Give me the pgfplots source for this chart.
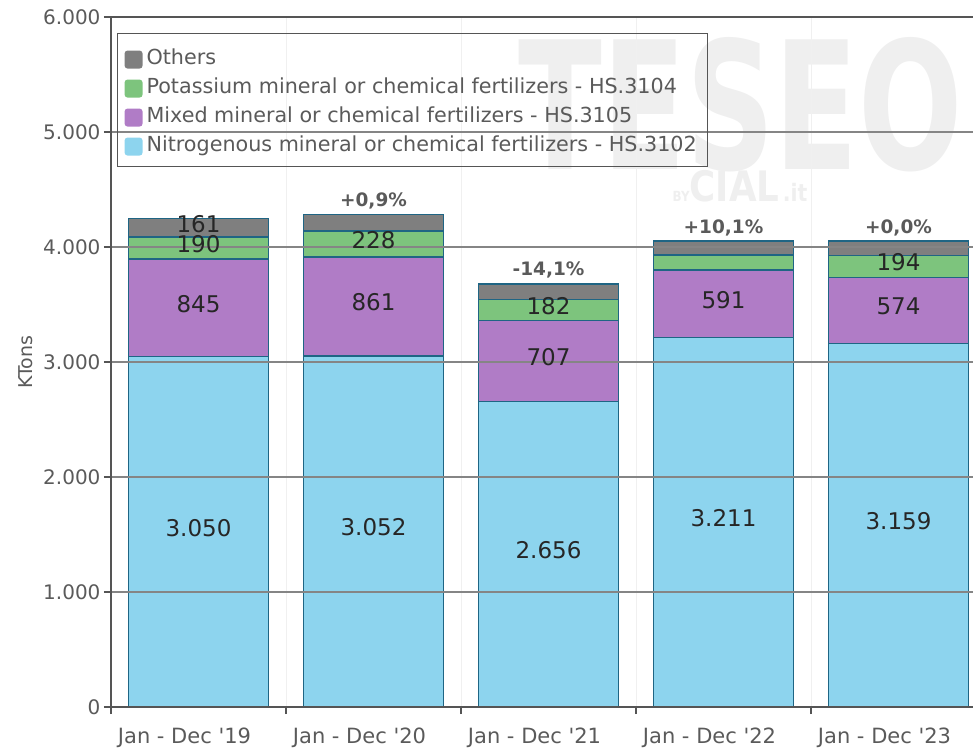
\documentclass[border=0pt]{standalone}
\usepackage{fontspec}
\setmainfont{DejaVu Sans}
\usepackage{pgfplots}
\pgfplotsset{compat=1.18}
\usepackage{pgfplotstable}
\definecolor{nitro}{HTML}{8DD4EE}
\definecolor{mixed}{HTML}{B07CC6}
\definecolor{potas}{HTML}{7DC47D}
\definecolor{others}{HTML}{7F7F7F}
\definecolor{edge}{HTML}{1F6584}
\definecolor{axgray}{HTML}{555555}
\definecolor{gridgray}{HTML}{858585}
\definecolor{vgrid}{HTML}{F0F0F0}
\definecolor{txtgray}{HTML}{5A5A5A}
\definecolor{wm}{HTML}{EFEFEF}

\pgfplotstableread{
x nitro mixed potas others
0 3050 845 190 161
1 3052 861 228 143
2 2656 707 182 135
3 3211 591 130 120
4 3159 574 194 125
}\datatable

\pgfplotstableread{
x y lab
0 1525 3.050
1 1526 3.052
2 1328 2.656
3 1605.5 3.211
4 1579.5 3.159
0 3472.5 845
1 3482.5 861
2 3009.5 707
3 3506.5 591
4 3446 574
0 3990 190
1 4027 228
2 3454 182
4 3830 194
0 4165.5 161
}\labtable

\pgfplotstableread{
x y lab
1 4284 +0,9
2 3680 -14,1
3 4052 +10,1
4 4052 +0,0
}\pcttable

\begin{document}
\begin{tikzpicture}
\useasboundingbox (-111pt,-41pt) rectangle (862pt,707pt);
% watermark
\node[text=wm, inner sep=0pt, font=\bfseries\fontsize{178}{178}\selectfont, xscale=0.69] at (630pt,602pt) {TESEO};
\node[text=wm, inner sep=0pt, xscale=0.85] at (629pt,521pt) {\fontsize{42}{42}\selectfont\bfseries{\fontsize{14}{14}\selectfont BY}CIAL{\fontsize{24}{24}\selectfont\,.it}};
\begin{axis}[
  at={(0pt,0pt)}, anchor=south west,
  width=875pt, height=690pt, scale only axis,
  xmin=-0.5, xmax=4.5, ymin=0, ymax=6000,
  ybar stacked, bar width=140pt,
  axis on top,
  axis line style={draw=axgray, line width=2.6pt},
  xtick={-0.5,0.5,1.5,2.5,3.5}, xticklabels={},
  extra x ticks={0,1,2,3,4},
  extra x tick labels={Jan - Dec \textquotesingle19,Jan - Dec \textquotesingle20,Jan - Dec \textquotesingle21,Jan - Dec \textquotesingle22,Jan - Dec \textquotesingle23},
  extra x tick style={major tick length=0pt, grid=none, tick label style={font=\fontsize{21}{24}\selectfont, text=txtgray, xshift=-14pt, yshift=-17pt}},
  ytick={0,1000,2000,3000,4000,5000,6000},
  yticklabels={0,1.000,2.000,3.000,4.000,5.000,6.000},
  yticklabel style={font=\fontsize{20}{24}\selectfont, text=txtgray},
  major tick length=7pt, tick align=outside,
  tick style={draw=axgray, line width=1.3pt},
  xtick pos=bottom, ytick pos=left,
  xmajorgrids, ymajorgrids,
  x grid style={draw=vgrid, line width=1pt},
  y grid style={draw=gridgray, line width=1.3pt},
  ylabel={KTons},
  every axis y label/.style={at={(axis description cs:-0.0971,0.5)}, rotate=90, anchor=center, font=\fontsize{19}{22}\selectfont, text=txtgray},
  reverse legend,
  legend style={at={(axis description cs:0.00686,0.9768)}, anchor=north west,
    draw=axgray, line width=1.1pt, fill=none,
    font=\fontsize{20.7}{24}\selectfont, text=txtgray,
    inner xsep=7pt, inner ysep=10pt, row sep=3pt,
    nodes={text height=19pt, text depth=3pt, inner ysep=2pt, inner xsep=4pt}},
  legend cell align=left,
  sq/.style={legend image code/.code={\path[##1,draw=none,rounded corners=3pt] (0pt,-12pt) rectangle (18pt,6pt);}},
]
\addplot[fill=nitro, draw=edge, line width=1.5pt, sq] table[x=x,y=nitro]{\datatable};
\addlegendentry{Nitrogenous mineral or chemical fertilizers - HS.3102}
\addplot[fill=mixed, draw=edge, line width=1.5pt, sq] table[x=x,y=mixed]{\datatable};
\addlegendentry{Mixed mineral or chemical fertilizers - HS.3105}
\addplot[fill=potas, draw=edge, line width=1.5pt, sq] table[x=x,y=potas]{\datatable};
\addlegendentry{Potassium mineral or chemical fertilizers - HS.3104}
\addplot[fill=others, draw=edge, line width=1.5pt, sq] table[x=x,y=others]{\datatable};
\addlegendentry{Others}
\end{axis}
\begin{axis}[
  at={(0pt,0pt)}, anchor=south west,
  width=875pt, height=690pt, scale only axis,
  xmin=-0.5, xmax=4.5, ymin=0, ymax=6000,
  hide axis, clip=false,
]
\addplot[draw=none, mark=none, nodes near coords={\pgfplotspointmeta}, point meta=explicit symbolic,
  nodes near coords align={center},
  nodes near coords style={font=\fontsize{23}{26}\selectfont, text=black!85, yshift=4pt}]
  table[x=x,y=y,meta=lab]{\labtable};
\addplot[draw=none, mark=none, nodes near coords={\pgfplotspointmeta\%}, point meta=explicit symbolic,
  nodes near coords align={center},
  nodes near coords style={font=\bfseries\fontsize{18.5}{22}\selectfont, text=txtgray, yshift=13.5pt}]
  table[x=x,y=y,meta=lab]{\pcttable};
\end{axis}
\end{tikzpicture}
\end{document}
